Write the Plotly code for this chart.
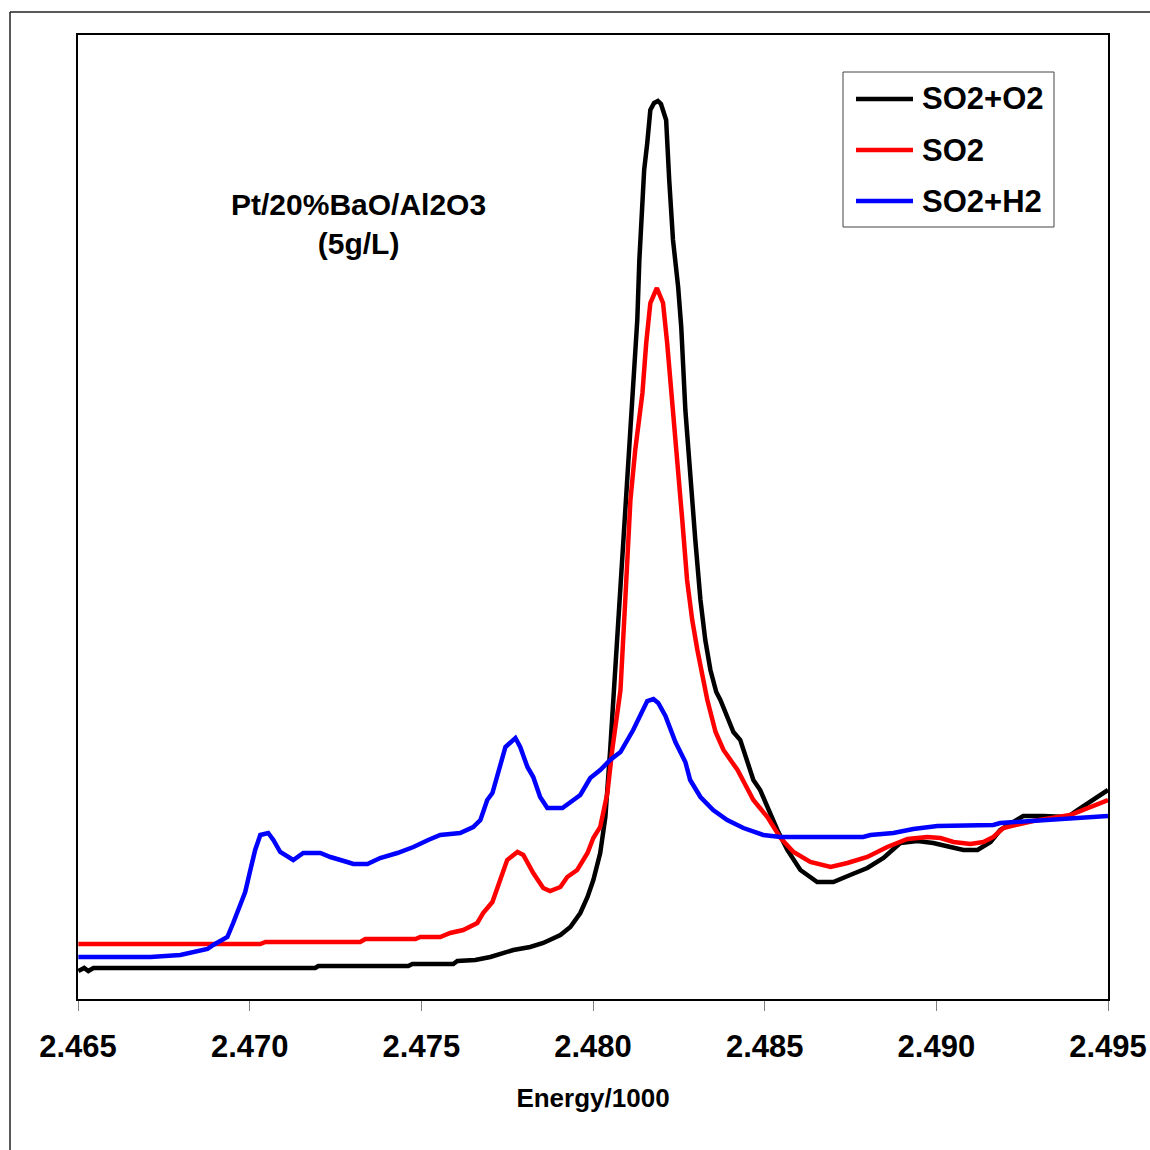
import plotly.graph_objects as go

# ---------------- data (energy in eV, intensity in arbitrary units) ----------------
energy_so2_o2 = [2465.01, 2465.18, 2465.30, 2465.45, 2471.91, 2472.00, 2474.62, 2474.74, 2475.93, 2476.05,
                 2476.57, 2477.01, 2477.68, 2478.17, 2478.55, 2479.05, 2479.34, 2479.63, 2479.84, 2480.01,
                 2480.21, 2480.36, 2480.50, 2480.59, 2480.71, 2480.82, 2480.94, 2481.06, 2481.12, 2481.17,
                 2481.29, 2481.35, 2481.41, 2481.49, 2481.58, 2481.67, 2481.78, 2481.89, 2481.98, 2482.13,
                 2482.22, 2482.33, 2482.48, 2482.57, 2482.69, 2482.83, 2482.98, 2483.13, 2483.27, 2483.42,
                 2483.59, 2483.71, 2484.09, 2484.29, 2484.67, 2484.87, 2485.08, 2485.37, 2485.66, 2486.04,
                 2486.53, 2487.00, 2487.49, 2487.99, 2488.46, 2488.95, 2489.45, 2489.91, 2490.41, 2490.79,
                 2491.20, 2491.58, 2491.86, 2492.53, 2493.12, 2493.82, 2494.11, 2495.00]
signal_so2_o2 = [0.028, 0.031, 0.028, 0.031, 0.031, 0.033, 0.033, 0.035, 0.035, 0.038,
                 0.039, 0.042, 0.049, 0.052, 0.056, 0.064, 0.072, 0.086, 0.102, 0.119,
                 0.146, 0.182, 0.249, 0.299, 0.359, 0.419, 0.499, 0.559, 0.599, 0.629,
                 0.679, 0.739, 0.789, 0.829, 0.856, 0.889, 0.896, 0.898, 0.895, 0.879,
                 0.819, 0.759, 0.712, 0.672, 0.589, 0.519, 0.459, 0.399, 0.359, 0.329,
                 0.307, 0.299, 0.267, 0.259, 0.219, 0.209, 0.192, 0.169, 0.149, 0.129,
                 0.117, 0.117, 0.124, 0.131, 0.141, 0.156, 0.158, 0.156, 0.152, 0.149,
                 0.149, 0.157, 0.169, 0.183, 0.183, 0.182, 0.189, 0.209]

energy_so2 = [2465.01, 2470.31, 2470.46, 2473.22, 2473.37, 2474.83, 2474.97, 2475.55, 2475.84, 2476.22,
              2476.63, 2476.80, 2477.07, 2477.30, 2477.50, 2477.80, 2477.97, 2478.26, 2478.55, 2478.75,
              2479.05, 2479.25, 2479.54, 2479.84, 2480.01, 2480.21, 2480.42, 2480.56, 2480.71, 2480.80,
              2480.94, 2481.09, 2481.23, 2481.44, 2481.55, 2481.67, 2481.86, 2482.04, 2482.16, 2482.33,
              2482.45, 2482.60, 2482.74, 2482.89, 2483.04, 2483.21, 2483.33, 2483.57, 2483.80, 2484.21,
              2484.67, 2485.08, 2485.46, 2485.84, 2486.33, 2486.92, 2487.41, 2487.99, 2488.57, 2489.16,
              2489.74, 2490.12, 2490.50, 2490.99, 2491.37, 2491.66, 2491.95, 2492.82, 2493.90, 2495.00]
signal_so2 = [0.055, 0.055, 0.057, 0.057, 0.060, 0.060, 0.062, 0.062, 0.066, 0.069,
              0.076, 0.086, 0.097, 0.119, 0.139, 0.147, 0.144, 0.126, 0.111, 0.108,
              0.112, 0.122, 0.129, 0.146, 0.161, 0.172, 0.206, 0.249, 0.282, 0.309,
              0.399, 0.499, 0.549, 0.606, 0.656, 0.696, 0.711, 0.696, 0.656, 0.589,
              0.549, 0.479, 0.419, 0.379, 0.349, 0.319, 0.299, 0.267, 0.249, 0.229,
              0.199, 0.182, 0.161, 0.147, 0.137, 0.132, 0.136, 0.142, 0.152, 0.160,
              0.162, 0.161, 0.157, 0.155, 0.157, 0.162, 0.171, 0.178, 0.184, 0.199]

energy_so2_h2 = [2465.01, 2467.11, 2467.98, 2468.36, 2468.77, 2468.94, 2469.35, 2469.52, 2469.73, 2469.87,
                 2470.02, 2470.16, 2470.31, 2470.54, 2470.69, 2470.89, 2471.27, 2471.56, 2472.06, 2472.35,
                 2472.84, 2473.02, 2473.43, 2473.80, 2474.30, 2474.77, 2475.20, 2475.55, 2476.13, 2476.51,
                 2476.72, 2476.92, 2477.07, 2477.30, 2477.45, 2477.74, 2477.88, 2478.09, 2478.26, 2478.46,
                 2478.67, 2479.11, 2479.34, 2479.63, 2479.92, 2480.21, 2480.50, 2480.80, 2481.17, 2481.58,
                 2481.76, 2481.90, 2482.11, 2482.40, 2482.69, 2482.83, 2483.13, 2483.50, 2483.91, 2484.38,
                 2484.96, 2485.46, 2487.87, 2488.08, 2488.75, 2489.33, 2490.03, 2491.66, 2491.86, 2495.00]
signal_so2_h2 = [0.042, 0.042, 0.044, 0.047, 0.050, 0.054, 0.062, 0.076, 0.096, 0.107,
                 0.129, 0.149, 0.164, 0.166, 0.159, 0.147, 0.139, 0.146, 0.146, 0.142,
                 0.137, 0.135, 0.135, 0.141, 0.146, 0.152, 0.159, 0.164, 0.166, 0.172,
                 0.179, 0.199, 0.206, 0.232, 0.252, 0.261, 0.252, 0.232, 0.222, 0.202,
                 0.191, 0.191, 0.197, 0.204, 0.221, 0.229, 0.239, 0.247, 0.269, 0.298,
                 0.300, 0.296, 0.283, 0.257, 0.237, 0.219, 0.202, 0.189, 0.179, 0.171,
                 0.164, 0.162, 0.162, 0.164, 0.166, 0.170, 0.173, 0.174, 0.176, 0.183]

series_names = ["SO2+O2", "SO2", "SO2+H2"]
series_colors = ["#000000", "#FF0000", "#0000FF"]
x_ticks = [2.465, 2.470, 2.475, 2.480, 2.485, 2.490, 2.495]
x_tick_labels = ["2.465", "2.470", "2.475", "2.480", "2.485", "2.490", "2.495"]
sample_lines = ["Pt/20%BaO/Al2O3", "(5g/L)"]
x_title = "Energy/1000"

# ---------------- figure ----------------
W, H = 1150, 1150
L, R, T, B = 78, 42, 35, 151
FONT = "Liberation Sans, Arial, sans-serif"


def px(xp):
    return (xp - L) / (W - L - R)


def py(yp):
    return (H - B - yp) / (H - T - B)


fig = go.Figure()
all_e = [energy_so2_o2, energy_so2, energy_so2_h2]
all_s = [signal_so2_o2, signal_so2, signal_so2_h2]
for name, color, e, s in zip(series_names, series_colors, all_e, all_s):
    fig.add_trace(go.Scatter(
        x=[v / 1000 for v in e], y=s, mode="lines", name=name,
        line=dict(color=color, width=4.5), showlegend=False,
    ))

shapes = []
annotations = []

# outer frame (top and left edges visible)
shapes.append(dict(type="line", xref="paper", yref="paper", x0=px(10), x1=px(1152),
                   y0=py(12), y1=py(12), line=dict(color="#222222", width=1.5)))
shapes.append(dict(type="line", xref="paper", yref="paper", x0=px(10), x1=px(10),
                   y0=py(12), y1=py(1152), line=dict(color="#222222", width=1.5)))

# manual legend
shapes.append(dict(type="rect", xref="paper", yref="paper", x0=px(843), x1=px(1054),
                   y0=py(72), y1=py(227), line=dict(color="#444444", width=1),
                   fillcolor="white"))
for i, (name, color) in enumerate(zip(series_names, series_colors)):
    yc = 99 + 51 * i
    shapes.append(dict(type="line", xref="paper", yref="paper", x0=px(856), x1=px(913),
                       y0=py(yc), y1=py(yc), line=dict(color=color, width=4.5)))
    annotations.append(dict(xref="paper", yref="paper", x=px(920), y=py(yc), text=name,
                            showarrow=False, xanchor="left", yanchor="middle",
                            font=dict(family=FONT, size=31, color="black", weight="bold")))

# sample label
annotations.append(dict(xref="paper", yref="paper", x=px(358), y=py(224),
                        text="<br>".join(sample_lines), showarrow=False,
                        xanchor="center", yanchor="middle", align="center",
                        font=dict(family=FONT, size=30, color="black", weight="bold")))

fig.update_layout(
    width=W, height=H, autosize=False,
    margin=dict(l=L, r=R, t=T, b=B, pad=0, autoexpand=False),
    paper_bgcolor="white", plot_bgcolor="white",
    shapes=shapes, annotations=annotations,
    showlegend=False,
)
fig.update_xaxes(
    range=[2.465, 2.495], tickvals=x_ticks, ticktext=x_tick_labels,
    showgrid=False, zeroline=False, showline=True, mirror=True,
    linecolor="black", linewidth=2,
    ticks="outside", ticklen=10, tickcolor="#808080", tickwidth=1,
    ticklabelstandoff=9,
    tickfont=dict(family=FONT, size=31, color="black", weight="bold"),
    title=dict(text=x_title, font=dict(family=FONT, size=26, color="black", weight="bold"),
               standoff=26),
)
fig.update_yaxes(
    range=[0, 0.964], showticklabels=False, ticks="",
    showgrid=False, zeroline=False, showline=True, mirror=True,
    linecolor="black", linewidth=2,
)

fig.write_html("out.html", config={"responsive": False})
